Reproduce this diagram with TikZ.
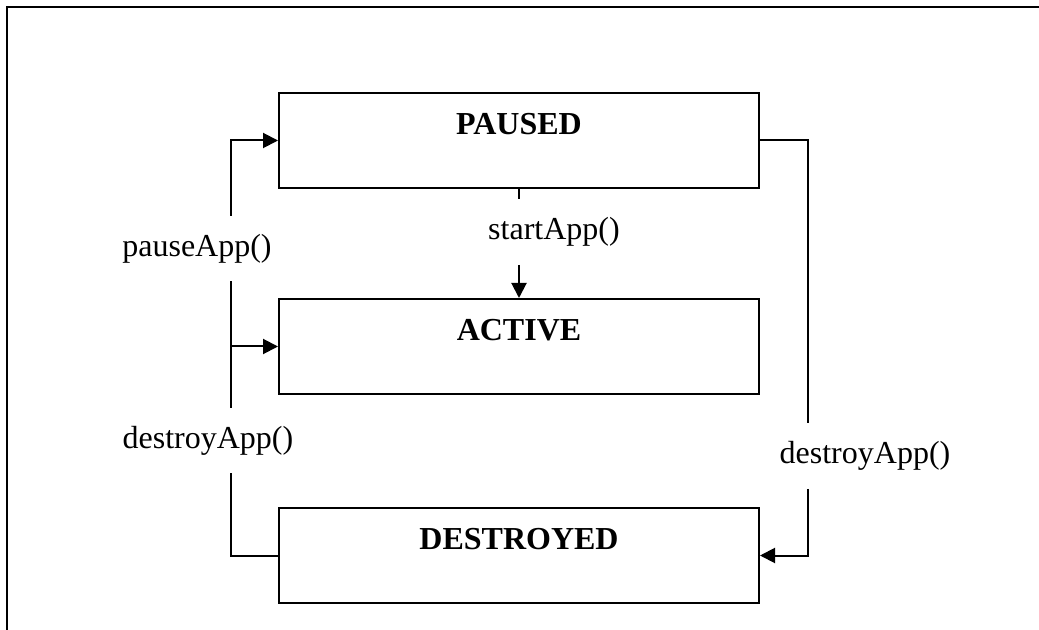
\documentclass[tikz,border=0pt]{standalone}
\usepackage{fontspec}
\setmainfont{Liberation Serif}
\usetikzlibrary{arrows.meta, positioning}

\tikzset{
  statebox/.style={draw, line width=1pt, minimum width=240pt, inner xsep=0pt, inner ysep=0pt,
    text height=21pt, text depth=26.5pt, font=\fontsize{16}{19}\selectfont\bfseries},
  lbl/.style={inner sep=0pt, minimum height=32.5pt, font=\fontsize{16}{19}\selectfont},
  conn/.style={line width=1pt},
  arr/.style={conn, -{Triangle[length=7.5pt, width=7.5pt]}}
}

\begin{document}
\begin{tikzpicture}[x=0.5pt, y=-0.5pt]
  \useasboundingbox (0,0) rectangle (1039,630);
  % frame
  \draw[line width=1.2pt] (7,630) -- (7,7) -- (1039,7);

  % states
  \node[statebox] (paused) at (519,140.5) {PAUSED};
  \node[statebox, below=54.5pt of paused] (active) {ACTIVE};
  \node[statebox, below=56pt of active] (destroyed) {DESTROYED};

  % transition labels
  \coordinate (lx) at (231,0);
  \coordinate (rx) at (808,0);
  \node[lbl] (pauselbl) at (197,248.5) {pauseApp()};
  \node[lbl] (destroyl) at (208,440.5) {destroyApp()};
  \node[lbl] (destroyr) at (865,456) {destroyApp()};
  \node[lbl] (startlbl) at (554,232) {startApp()};

  % left side
  \draw[conn] (destroyed.west) -| (destroyl.south -| lx);
  \draw[conn] (destroyl.north -| lx) -- (pauselbl.south -| lx);
  \draw[arr] (pauselbl.north -| lx) |- (paused.west);
  \draw[arr] (active.west -| lx) -- (active.west);

  % middle
  \draw[conn] (paused.south) -- (startlbl.north -| paused.south);
  \draw[arr] (startlbl.south -| active.north) -- (active.north);

  % right side
  \draw[conn] (paused.east) -| (destroyr.north -| rx);
  \draw[arr] (destroyr.south -| rx) |- (destroyed.east);
\end{tikzpicture}
\end{document}
